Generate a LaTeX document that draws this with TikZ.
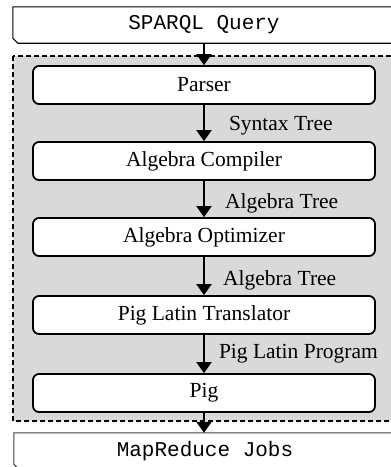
\documentclass[tikz,border=0pt]{standalone}
\usepackage{fontspec}
\setmainfont{Liberation Serif}
\setmonofont{Liberation Mono}
\usetikzlibrary{arrows.meta}
\definecolor{panelgray}{RGB}{217,217,217}
\begin{document}
\begin{tikzpicture}[x=1pt,y=-1pt,
  stagebox/.style={draw=black,line width=1.8pt,fill=white,rounded corners=6pt,
    minimum width=342pt,minimum height=38pt,inner sep=0pt,
    font=\fontsize{21.5}{25}\selectfont},
  iobox/.style={minimum width=382pt,minimum height=36pt,inner sep=0pt,
    font=\ttfamily\fontsize{21}{25}\selectfont},
  flow/.style={line width=2pt,-{Triangle[width=15pt,length=11pt]}},
  flowlabel/.style={anchor=west,inner sep=0pt,font=\fontsize{21.5}{25}\selectfont}]
\useasboundingbox (0,0) rectangle (391,467);
\clip (0,0) rectangle (391,467);
% dashed panel
\draw[fill=panelgray,line width=1.5pt,dash pattern=on 5pt off 3pt] (13,56) rectangle (405,421);
% input / output
\node[iobox] (sparql) at (204,25) {SPARQL Query};
\draw[line width=1.1pt] (sparql.north east) -- (sparql.north west) -- ([yshift=5pt]sparql.south west)
  -- ([xshift=5pt]sparql.south west) -- (sparql.south east);
\node[iobox] (mr) at (205,451) {MapReduce Jobs};
\draw[line width=1.1pt,draw=black!75] (mr.north east) -- (mr.north west) -- ([yshift=5pt]mr.south west)
  -- ([xshift=5pt]mr.south west) -- (mr.south east);
% stages
\node[stagebox] (parser) at (204,85) {Parser};
\node[stagebox] (comp) at (204,161) {Algebra Compiler};
\node[stagebox] (opt) at (204,237) {Algebra Optimizer};
\node[stagebox] (trans) at (204,315) {Pig Latin Translator};
\node[stagebox] (pig) at (204,393) {Pig};
% connectors
\draw[flow] (sparql.south -| parser.north) -- (parser.north);
\draw[flow] (parser) -- (comp) node[flowlabel,midway,xshift=24pt,yshift=-3pt] (l1) {Syntax Tree};
\draw[flow] (comp) -- (opt) node[flowlabel,midway,xshift=20pt,yshift=-4pt] (l2) {Algebra Tree};
\draw[flow] (opt) -- (trans) node[flowlabel,midway,xshift=18pt,yshift=-4pt] (l3) {Algebra Tree};
\draw[flow] (trans) -- (pig) node[flowlabel,midway,xshift=14pt,yshift=0pt] (l4) {Pig Latin Program};
\draw[flow] (pig.south) -- (pig.south |- mr.north);
\end{tikzpicture}
\end{document}
